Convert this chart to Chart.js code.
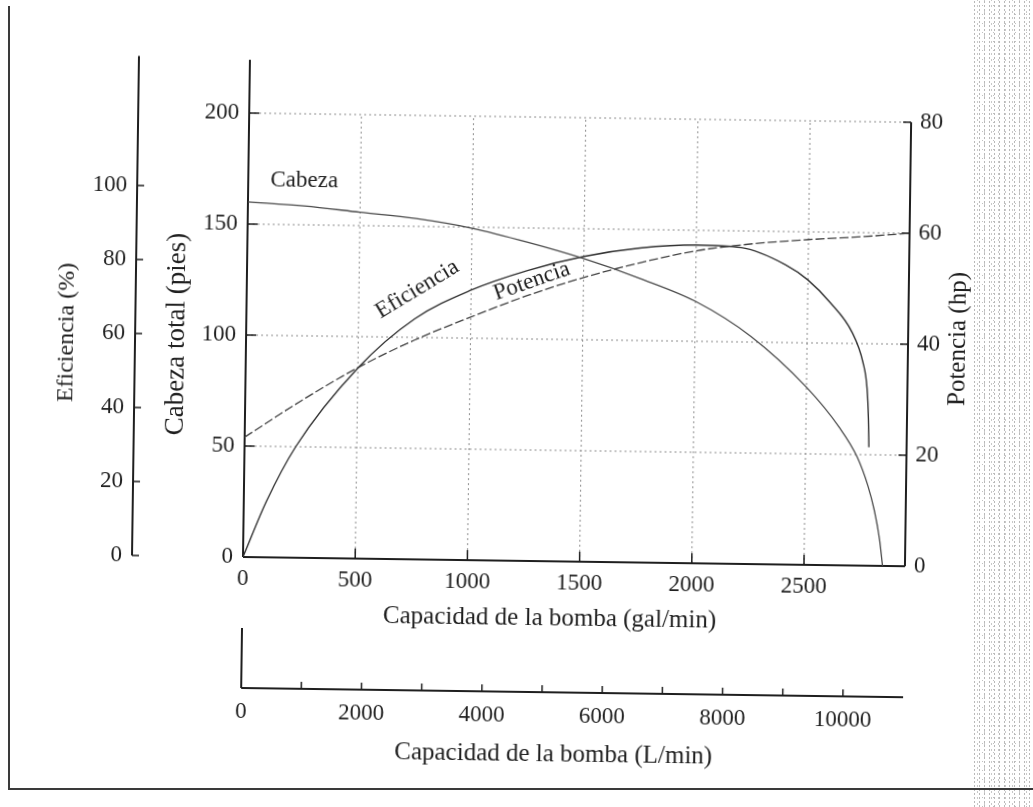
<!DOCTYPE html>
<html>
<head>
<meta charset="utf-8">
<script src="https://cdn.jsdelivr.net/npm/chart.js@4.4.1/dist/chart.umd.min.js"></script>
<style>
  html, body { margin: 0; padding: 0; background: #fff; }
  #wrap { position: relative; width: 1033px; height: 807px; overflow: hidden; }
  #plot { position: absolute; left: 0; top: 0; width: 1033px; height: 807px;
          transform: rotate(0.8deg); transform-origin: 243px 557px; }
  #frame { position: absolute; left: 8px; top: 6px; width: 1100px; height: 782px;
           border-left: 2px solid #3a3a3a; border-bottom: 2px solid #3a3a3a; }
  #noise { position: absolute; left: 972px; top: 0; width: 61px; height: 807px; opacity: .45;
           background-image:
             radial-gradient(circle, #666 0.7px, transparent 1px),
             radial-gradient(circle, #888 0.6px, transparent 0.9px),
             radial-gradient(circle, #777 0.7px, transparent 1px);
           background-size: 5px 4px, 7px 6px, 11px 9px;
           background-position: 0 0, 2px 3px, 5px 1px; }
</style>
</head>
<body>
<div id="wrap">
  <div id="noise"></div>
  <div id="frame"></div>
  <div id="plot"><canvas id="chart"></canvas></div>
</div>
<script>
// --- datos ---
// Cabeza total (pies) vs capacidad (gal/min)
const headGal = [0, 250, 500, 750, 1000, 1250, 1500, 1750, 2000, 2250, 2500, 2650, 2730, 2780, 2810, 2835, 2850];
const headFt  = [160, 158.5, 156, 153.5, 149.5, 143.5, 136.5, 128, 118, 102.5, 80, 62, 49, 36, 25, 12, 0];

// Eficiencia (%)
const effGal = [0, 100, 228, 500, 750, 1000, 1250, 1500, 1750, 2000, 2200, 2400, 2500, 2600, 2700, 2750, 2770, 2778, 2782];
const effPct = [0, 15, 30, 51.5, 65, 73, 78.5, 82.5, 85, 86, 85.5, 81, 77, 71, 63, 55, 48, 40, 32];

// Potencia (hp)
const powGal = [0, 250, 500, 750, 1000, 1250, 1500, 1750, 2000, 2250, 2500, 2750, 2950];
const powHp  = [21.6, 28.3, 34.4, 39.5, 43.8, 47.8, 51.2, 54, 56.3, 57.7, 58.6, 59.3, 60];

// marcas de los ejes
const galTicks  = [0, 500, 1000, 1500, 2000, 2500];
const litTicks  = [0, 1000, 2000, 3000, 4000, 5000, 6000, 7000, 8000, 9000, 10000];
const headTicks = [0, 50, 100, 150, 200];
const effTicks  = [0, 20, 40, 60, 80, 100];
const powTicks  = [0, 20, 40, 60, 80];

// rangos de los ejes
const galMax = 2950, litMax = 11000;
const headMax = 200, headTop = 224;
const effMax = 120, effTop = 135;
const powMax = 80;

const SERIF = '"Liberation Serif", "Times New Roman", serif';
const INK = '#1f1f1f';

// etiquetas sobre las curvas (en unidades de los ejes)
const curveLabels = [
  { text: 'Cabeza',     gal: 250,  axis: 'yHead', value: 170,  angle: 0 },
  { text: 'Eficiencia', gal: 760,  axis: 'yEff',  value: 73,   angle: -32 },
  { text: 'Potencia',   gal: 1270, axis: 'yPow',  value: 50.4, angle: -20 }
];

const pts = (xs, ys) => xs.map((v, i) => ({ x: v, y: ys[i] }));
const setTicks = list => s => { s.ticks = list.map(v => ({ value: v })); };

function line(ctx, x1, y1, x2, y2) {
  ctx.beginPath(); ctx.moveTo(x1, y1); ctx.lineTo(x2, y2); ctx.stroke();
}

// ejes, marcas y rejilla punteada
const axesPlugin = {
  id: 'axesPlugin',
  beforeDatasetsDraw(chart) {
    const { ctx, scales: { x, xL, yHead, yEff, yPow } } = chart;
    const y0 = yHead.getPixelForValue(0);
    ctx.save();
    // rejilla
    ctx.strokeStyle = '#8c8c8c'; ctx.lineWidth = 1; ctx.setLineDash([2, 3]);
    yHead.ticks.forEach(t => {
      if (t.value > 0) { const y = yHead.getPixelForValue(t.value); line(ctx, x.left, y, x.right, y); }
    });
    x.ticks.forEach(t => {
      if (t.value > 0) { const px = x.getPixelForValue(t.value); line(ctx, px, y0, px, yHead.getPixelForValue(headMax)); }
    });
    ctx.setLineDash([]);
    // lineas de ejes
    ctx.strokeStyle = INK; ctx.lineWidth = 2;
    line(ctx, x.left, y0, x.right, y0);
    line(ctx, x.left, y0, x.left, yHead.getPixelForValue(headTop));
    line(ctx, x.right, y0, x.right, yPow.getPixelForValue(powMax));
    line(ctx, yEff.right, yEff.getPixelForValue(0), yEff.right, yEff.getPixelForValue(effTop));
    line(ctx, xL.left, xL.top, xL.right, xL.top);
    line(ctx, xL.left, xL.top, xL.left, xL.top - 60);
    // marcas
    ctx.lineWidth = 1.5;
    yHead.ticks.forEach(t => { const y = yHead.getPixelForValue(t.value); line(ctx, x.left, y, x.left + 10, y); });
    yEff.ticks.forEach(t => { const y = yEff.getPixelForValue(t.value); line(ctx, yEff.right, y, yEff.right + 7, y); });
    yPow.ticks.forEach(t => { const y = yPow.getPixelForValue(t.value); line(ctx, x.right - 8, y, x.right, y); });
    x.ticks.forEach(t => { const px = x.getPixelForValue(t.value); line(ctx, px, y0, px, y0 - 10); });
    xL.ticks.forEach(t => { const px = xL.getPixelForValue(t.value); line(ctx, px, xL.top, px, xL.top - 7); });
    ctx.restore();
  },
  afterDatasetsDraw(chart) {
    const { ctx, scales } = chart;
    const { x, xL, yPow } = scales;
    ctx.save();
    ctx.fillStyle = INK;
    ctx.textAlign = 'center'; ctx.textBaseline = 'middle';
    ctx.font = '23px ' + SERIF;
    curveLabels.forEach(l => {
      ctx.save();
      ctx.translate(x.getPixelForValue(l.gal), scales[l.axis].getPixelForValue(l.value));
      ctx.rotate(l.angle * Math.PI / 180);
      ctx.fillText(l.text, 0, 0);
      ctx.restore();
    });
    // titulos inferiores y derecho
    ctx.font = '25px ' + SERIF;
    ctx.fillText('Capacidad de la bomba (gal/min)', x.getPixelForValue(1370), x.top + 57);
    ctx.fillText('Capacidad de la bomba (L/min)', xL.getPixelForValue(5200), xL.top + 62);
    ctx.save();
    ctx.translate(x.right + 50, (yPow.top + yPow.bottom) / 2 - 6);
    ctx.rotate(-Math.PI / 2);
    ctx.fillText('Potencia (hp)', 0, 0);
    ctx.restore();
    ctx.restore();
  }
};

const tickFont = { family: SERIF, size: 23 };
const noGrid = { display: false, drawTicks: false };
const noBorder = { display: false };
const num = v => String(v);

new Chart(document.getElementById('chart'), {
  type: 'line',
  data: {
    datasets: [
      { label: 'Cabeza', data: pts(headGal, headFt), yAxisID: 'yHead',
        borderColor: '#4a4a4a', borderWidth: 1.3 },
      { label: 'Eficiencia', data: pts(effGal, effPct), yAxisID: 'yEff',
        borderColor: '#333', borderWidth: 1.4 },
      { label: 'Potencia', data: pts(powGal, powHp), yAxisID: 'yPow',
        borderColor: '#444', borderWidth: 1.3, borderDash: [9, 3] }
    ]
  },
  options: {
    responsive: true,
    maintainAspectRatio: false,
    animation: false,
    layout: { padding: { left: 30, right: 0, top: 113, bottom: 10 } },
    elements: { point: { radius: 0 }, line: { cubicInterpolationMode: 'monotone' } },
    plugins: { legend: { display: false }, tooltip: { enabled: false } },
    scales: {
      x: {
        type: 'linear', position: 'bottom', min: 0, max: galMax,
        grid: noGrid, border: noBorder, afterBuildTicks: setTicks(galTicks),
        ticks: { padding: 8, maxRotation: 0, autoSkip: false, color: INK, font: tickFont, callback: num },
        afterFit: s => { s.height = 131; }
      },
      xL: {
        type: 'linear', position: 'bottom', min: 0, max: litMax,
        grid: noGrid, border: noBorder, afterBuildTicks: setTicks(litTicks),
        ticks: { padding: 10, maxRotation: 0, autoSkip: false, color: INK, font: tickFont,
                 callback: v => (v % 2000 === 0 ? String(v) : '') },
        afterFit: s => { s.height = 109; }
      },
      yHead: {
        type: 'linear', position: 'left', min: 0, max: headMax,
        grid: noGrid, border: noBorder, afterBuildTicks: setTicks(headTicks),
        ticks: { padding: 10, color: INK, font: tickFont, callback: num },
        title: { display: true, text: 'Cabeza total (pies)', color: INK,
                 font: { family: SERIF, size: 27 }, padding: { top: 26 } },
        afterFit: s => { s.width = 111; }
      },
      yEff: {
        type: 'linear', position: 'left', min: 0, max: effMax,
        grid: noGrid, border: noBorder, afterBuildTicks: setTicks(effTicks),
        ticks: { padding: 10, color: INK, font: tickFont, callback: num },
        title: { display: true, text: 'Eficiencia (%)', color: INK,
                 font: { family: SERIF, size: 24 }, padding: { top: 19 } },
        afterFit: s => { s.width = 102; }
      },
      yPow: {
        type: 'linear', position: 'right', min: 0, max: powMax,
        grid: noGrid, border: noBorder, afterBuildTicks: setTicks(powTicks),
        ticks: { padding: 9, color: INK, font: tickFont, callback: num },
        afterFit: s => { s.width = 128; }
      }
    }
  },
  plugins: [axesPlugin]
});
</script>
</body>
</html>
